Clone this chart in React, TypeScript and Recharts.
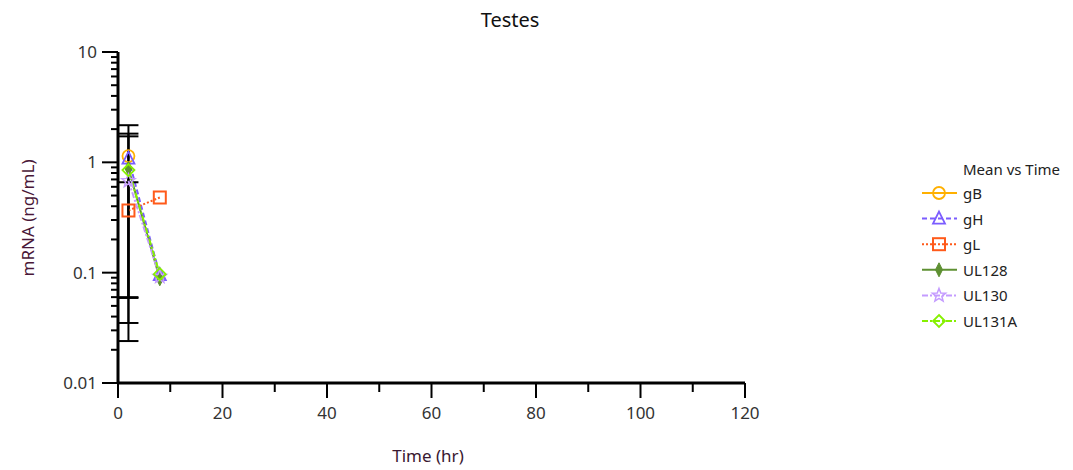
import React from "react";
import { ComposedChart, Line, XAxis, YAxis, ErrorBar } from "recharts";

// sampling times (hr)
const TIMES = [2, 8];

// mean mRNA (ng/mL) per series, one value per time
const GB = [1.14, null];
const GH = [1.08, 0.095];
const GL = [0.366, 0.48];
const UL128 = [0.88, 0.088];
const UL130 = [0.68, 0.092];
const UL131A = [0.85, 0.097];

// [below, above] error deltas, only at 2 hr
const GB_ERR = [[1.081, 1.03], null];
const GH_ERR = [[1.056, 0.74], null];
const GL_ERR = [[0.331, 0.294], null];
const UL128_ERR = [[0.82, 0.84], null];

const Y_TICKS = [
  0.01, 0.02, 0.03, 0.04, 0.05, 0.06, 0.07, 0.08, 0.09,
  0.1, 0.2, 0.3, 0.4, 0.5, 0.6, 0.7, 0.8, 0.9,
  1, 2, 3, 4, 5, 6, 7, 8, 9, 10,
];
const Y_LABELS: Record<string, string> = { "0.01": "0.01", "0.1": "0.1", "1": "1", "10": "10" };
const X_TICKS = [0, 10, 20, 30, 40, 50, 60, 70, 80, 90, 100, 110, 120];

const FONT = "'Noto Sans', 'Open Sans', sans-serif";

const data = TIMES.map((t, i) => ({
  t,
  gB: GB[i], gH: GH[i], gL: GL[i], UL128: UL128[i], UL130: UL130[i], UL131A: UL131A[i],
  gBErr: GB_ERR[i] ?? undefined,
  gHErr: GH_ERR[i] ?? undefined,
  gLErr: GL_ERR[i] ?? undefined,
  UL128Err: UL128_ERR[i] ?? undefined,
}));

type Shape = "circle" | "triangle" | "square" | "thin" | "star" | "diamond";

const SERIES: { key: string; name: string; color: string; dash?: string; shape: Shape; err?: string }[] = [
  { key: "gB", name: "gB", color: "#FFB000", shape: "circle", err: "gBErr" },
  { key: "gH", name: "gH", color: "#7B5CFF", dash: "5 3", shape: "triangle", err: "gHErr" },
  { key: "gL", name: "gL", color: "#FF5A1A", dash: "2 2", shape: "square", err: "gLErr" },
  { key: "UL128", name: "UL128", color: "#5E9032", shape: "thin", err: "UL128Err" },
  { key: "UL130", name: "UL130", color: "#C49BFF", dash: "6 2 2 2", shape: "star" },
  { key: "UL131A", name: "UL131A", color: "#86F000", dash: "6 2 2 2", shape: "diamond" },
];

function Marker({ shape, cx, cy, color }: { shape: Shape; cx: number; cy: number; color: string }) {
  const p = { stroke: color, strokeWidth: 1.8, fill: "none" };
  switch (shape) {
    case "circle":
      return <circle cx={cx} cy={cy} r={6} {...p} />;
    case "triangle":
      return <polygon points={`${cx},${cy - 7} ${cx + 6},${cy + 5} ${cx - 6},${cy + 5}`} {...p} />;
    case "square":
      return <rect x={cx - 6} y={cy - 6} width={12} height={12} {...p} strokeWidth={2} />;
    case "thin":
      return <polygon points={`${cx},${cy - 7} ${cx + 3.5},${cy} ${cx},${cy + 7} ${cx - 3.5},${cy}`} fill={color} stroke={color} strokeWidth={1} />;
    case "star": {
      const pts: string[] = [];
      for (let k = 0; k < 10; k++) {
        const r = k % 2 === 0 ? 7 : 3;
        const a = -Math.PI / 2 + (k * Math.PI) / 5;
        pts.push(`${cx + r * Math.cos(a)},${cy + r * Math.sin(a)}`);
      }
      return <polygon points={pts.join(" ")} {...p} strokeWidth={1.5} />;
    }
    default:
      return <polygon points={`${cx},${cy - 6} ${cx + 6},${cy} ${cx},${cy + 6} ${cx - 6},${cy}`} {...p} />;
  }
}

const YTick = (props: any) => {
  const { x, y, payload } = props;
  const label = Y_LABELS[String(payload.value)];
  const len = label ? 16 : 7;
  return (
    <g>
      <line x1={x - len} x2={x} y1={y} y2={y} stroke="#000" strokeWidth={2} />
      {label && (
        <text x={x - 21} y={y} dy={6} textAnchor="end" fontSize={17} fill="#333" fontFamily={FONT}>
          {label}
        </text>
      )}
    </g>
  );
};

const XTick = (props: any) => {
  const { x, y, payload } = props;
  const major = payload.value % 20 === 0;
  return (
    <g>
      <line x1={x} x2={x} y1={y} y2={y + (major ? 15 : 9)} stroke="#000" strokeWidth={2} />
      {major && (
        <text x={x} y={y + 36} textAnchor="middle" fontSize={17} fill="#333" fontFamily={FONT}>
          {payload.value}
        </text>
      )}
    </g>
  );
};

function LegendBox() {
  return (
    <svg width={170} height={200} style={{ position: "absolute", left: 905, top: 150 }}>
      <text x={58} y={25} fontSize={15} fill="#222" fontFamily={FONT}>Mean vs Time</text>
      {SERIES.map((s, i) => {
        const y = 43 + i * 25.6;
        return (
          <g key={s.key}>
            <line x1={17} x2={52} y1={y} y2={y} stroke={s.color} strokeWidth={2} strokeDasharray={s.dash} />
            <Marker shape={s.shape} cx={34} cy={y} color={s.color} />
            <text x={58} y={y + 6} fontSize={15} fill="#222" fontFamily={FONT}>{s.name}</text>
          </g>
        );
      })}
    </svg>
  );
}

export default function App() {
  return (
    <div style={{ position: "absolute", left: 0, top: 0, width: 1073, height: 470, background: "#fff", fontFamily: FONT }}>
      <div style={{ position: "absolute", left: 0, width: 1020, top: 6, textAlign: "center", fontSize: 20, color: "#111" }}>
        Testes
      </div>
      <ComposedChart width={1073} height={470} data={data} margin={{ top: 52, right: 328, bottom: 47, left: 58 }}>
        <XAxis
          dataKey="t" type="number" domain={[0, 120]} ticks={X_TICKS} interval={0}
          tick={<XTick />} tickLine={false} tickSize={0} tickMargin={0} height={40}
          axisLine={{ stroke: "#000", strokeWidth: 3 }}
        />
        <YAxis
          type="number" scale="log" domain={[0.01, 10]} ticks={Y_TICKS} interval={0} allowDataOverflow
          tick={<YTick />} tickLine={false} tickSize={0} tickMargin={0} width={60}
          axisLine={{ stroke: "#000", strokeWidth: 3 }}
        />
        {SERIES.map((s) => (
          <Line
            key={s.key} dataKey={s.key} name={s.name} stroke={s.color} strokeWidth={2}
            strokeDasharray={s.dash} isAnimationActive={false} connectNulls={false}
            activeDot={false}
            dot={(p: any) =>
              p.cx == null || p.cy == null || p.value == null ? (
                <g key={p.key ?? `${s.key}-${p.index}`} />
              ) : (
                <g key={p.key ?? `${s.key}-${p.index}`}>
                  <Marker shape={s.shape} cx={p.cx} cy={p.cy} color={s.color} />
                </g>
              )
            }
          >
            {s.err && <ErrorBar dataKey={s.err} direction="y" width={10} stroke="#000" strokeWidth={2} isAnimationActive={false} />}
          </Line>
        ))}
      </ComposedChart>
      <div
        style={{
          position: "absolute", left: 27, top: 218, transform: "translate(-50%, -50%) rotate(-90deg)",
          fontSize: 17, color: "#4a1838", whiteSpace: "nowrap",
        }}
      >
        mRNA (ng/mL)
      </div>
      <div
        style={{
          position: "absolute", left: 428, top: 455, transform: "translate(-50%, -50%)",
          fontSize: 17, color: "#3a1830", whiteSpace: "nowrap",
        }}
      >
        Time (hr)
      </div>
      <LegendBox />
    </div>
  );
}
